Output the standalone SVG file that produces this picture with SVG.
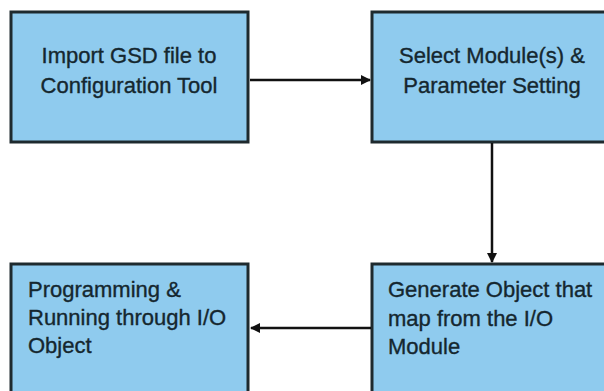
<svg xmlns="http://www.w3.org/2000/svg" width="604" height="391" viewBox="0 0 604 391">
  <style>
    .box { fill: #8fcbee; stroke: #1e2a2e; stroke-width: 3; }
    .lbl { font-family: "Liberation Sans", Arial, sans-serif; font-size: 22px; fill: #15272f; stroke: #15272f; stroke-width: 0.35; }
    .mid { text-anchor: middle; }
    .conn { stroke: #111; stroke-width: 2.5; fill: none; marker-end: url(#arr); }
  </style>
  <defs>
    <marker id="arr" viewBox="0 0 10 10" refX="9" refY="5" markerWidth="4" markerHeight="4" orient="auto" markerUnits="strokeWidth">
      <path d="M0,0 L10,5 L0,10 Z" fill="#111"/>
    </marker>
  </defs>
  <rect width="604" height="391" fill="#ffffff"/>
  <g id="node-import">
    <rect class="box" x="11" y="12" width="237" height="130"/>
    <text class="lbl mid" x="129" y="63">Import GSD file to</text>
    <text class="lbl mid" x="129" y="93">Configuration Tool</text>
  </g>
  <g id="node-select">
    <rect class="box" x="372" y="12" width="250" height="130"/>
    <text class="lbl mid" x="492" y="63">Select Module(s) &amp;</text>
    <text class="lbl mid" x="492" y="93">Parameter Setting</text>
  </g>
  <g id="node-generate">
    <rect class="box" x="372" y="264" width="250" height="140"/>
    <text class="lbl" x="388" y="297">Generate Object that</text>
    <text class="lbl" x="388" y="326">map from the I/O</text>
    <text class="lbl" x="388" y="354">Module</text>
  </g>
  <g id="node-program">
    <rect class="box" x="11" y="264" width="237" height="140"/>
    <text class="lbl" x="28" y="297">Programming &amp;</text>
    <text class="lbl" x="28" y="325">Running through I/O</text>
    <text class="lbl" x="28" y="353">Object</text>
  </g>
  <g id="connectors">
    <line class="conn" x1="250" y1="80" x2="370" y2="80"/>
    <line class="conn" x1="492" y1="143" x2="492" y2="262"/>
    <line class="conn" x1="371" y1="328" x2="251" y2="328"/>
  </g>
</svg>
